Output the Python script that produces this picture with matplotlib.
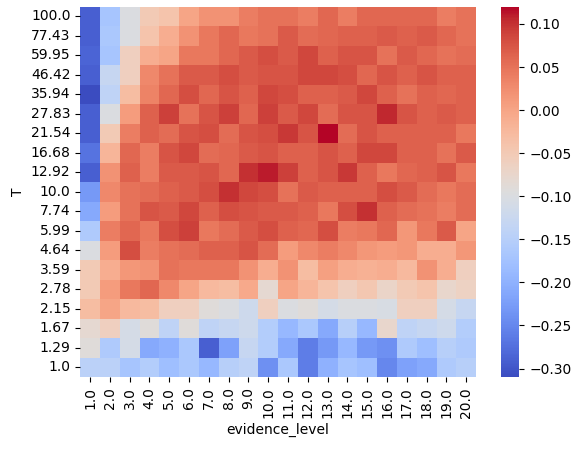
import numpy as np
import pandas as pd
import matplotlib
matplotlib.use("Agg")
import matplotlib.pyplot as plt
import seaborn as sns

T_labels = ["100.0","77.43","59.95","46.42","35.94","27.83","21.54","16.68","12.92","10.0",
            "7.74","5.99","4.64","3.59","2.78","2.15","1.67","1.29","1.0"]
evidence_levels = [f"{i:.1f}" for i in range(1, 21)]

values = [
 [-0.29,-0.17,-0.10,-0.05,-0.04,0.0,0.02,0.02,0.04,0.05,0.05,0.04,0.06,0.04,0.06,0.06,0.06,0.06,0.04,0.05],
 [-0.29,-0.165,-0.10,-0.04,-0.01,0.02,0.045,0.06,0.045,0.05,0.07,0.055,0.06,0.065,0.065,0.07,0.065,0.07,0.06,0.05],
 [-0.285,-0.17,-0.06,-0.01,0.0,0.045,0.045,0.06,0.07,0.08,0.07,0.085,0.065,0.075,0.075,0.05,0.07,0.06,0.05,0.055],
 [-0.29,-0.13,-0.06,0.03,0.05,0.07,0.07,0.08,0.07,0.075,0.075,0.085,0.085,0.08,0.06,0.075,0.065,0.075,0.065,0.065],
 [-0.31,-0.14,-0.03,0.035,0.06,0.08,0.06,0.075,0.065,0.085,0.08,0.065,0.065,0.07,0.085,0.065,0.05,0.065,0.06,0.065],
 [-0.29,-0.10,0.01,0.065,0.09,0.05,0.075,0.09,0.06,0.09,0.07,0.085,0.055,0.075,0.075,0.105,0.075,0.065,0.07,0.065],
 [-0.29,-0.05,0.04,0.065,0.055,0.075,0.08,0.055,0.075,0.08,0.095,0.075,0.12,0.055,0.075,0.065,0.065,0.065,0.065,0.045],
 [-0.27,-0.02,0.06,0.04,0.075,0.085,0.055,0.06,0.07,0.075,0.065,0.065,0.075,0.065,0.085,0.085,0.065,0.065,0.05,0.07],
 [-0.29,0.02,0.065,0.04,0.07,0.07,0.075,0.06,0.10,0.11,0.09,0.065,0.075,0.095,0.065,0.045,0.06,0.065,0.075,0.045],
 [-0.23,0.03,0.05,0.055,0.065,0.07,0.08,0.10,0.085,0.08,0.05,0.07,0.065,0.065,0.065,0.08,0.07,0.055,0.045,0.055],
 [-0.21,0.01,0.05,0.075,0.07,0.085,0.065,0.08,0.075,0.07,0.07,0.065,0.045,0.08,0.10,0.065,0.055,0.05,0.04,0.055],
 [-0.16,0.04,0.06,0.045,0.08,0.09,0.045,0.055,0.07,0.08,0.065,0.06,0.08,0.04,0.045,0.06,0.015,0.045,0.07,0.0],
 [-0.10,0.01,0.08,0.04,0.05,0.055,0.065,0.065,0.075,0.055,0.01,0.03,0.04,0.03,0.015,0.01,0.015,-0.01,-0.01,0.015],
 [-0.05,-0.01,0.015,0.02,0.05,0.045,0.045,0.045,0.02,-0.01,0.02,-0.03,0.005,-0.01,-0.015,-0.01,-0.025,0.02,-0.01,-0.06],
 [-0.05,0.01,0.045,0.06,0.03,0.0,-0.025,-0.03,-0.005,-0.08,0.0,-0.02,-0.04,-0.06,-0.045,-0.07,-0.05,-0.04,-0.075,-0.065],
 [-0.03,0.0,-0.025,-0.03,-0.06,-0.06,-0.09,-0.10,-0.12,-0.06,-0.10,-0.09,-0.11,-0.10,-0.10,-0.105,-0.06,-0.06,-0.11,-0.13],
 [-0.08,-0.06,-0.11,-0.09,-0.14,-0.09,-0.14,-0.13,-0.12,-0.155,-0.19,-0.165,-0.21,-0.15,-0.19,-0.075,-0.14,-0.13,-0.12,-0.155],
 [-0.09,-0.16,-0.11,-0.21,-0.20,-0.165,-0.29,-0.22,-0.13,-0.155,-0.21,-0.26,-0.23,-0.19,-0.23,-0.24,-0.16,-0.18,-0.15,-0.16],
 [-0.145,-0.145,-0.17,-0.155,-0.18,-0.165,-0.19,-0.15,-0.14,-0.24,-0.165,-0.26,-0.20,-0.17,-0.18,-0.25,-0.22,-0.21,-0.16,-0.15],
]

df = pd.DataFrame(values, index=T_labels, columns=evidence_levels)
df.index.name = "T"
df.columns.name = "evidence_level"

fig, ax = plt.subplots(figsize=(5.81, 4.49), dpi=100)
sns.heatmap(df, cmap="coolwarm", ax=ax)
ax.set_yticklabels(ax.get_yticklabels(), rotation=0)
fig.subplots_adjust(left=0.138, right=0.99, top=0.985, bottom=0.16)
fig.savefig("out.png", dpi=100)
